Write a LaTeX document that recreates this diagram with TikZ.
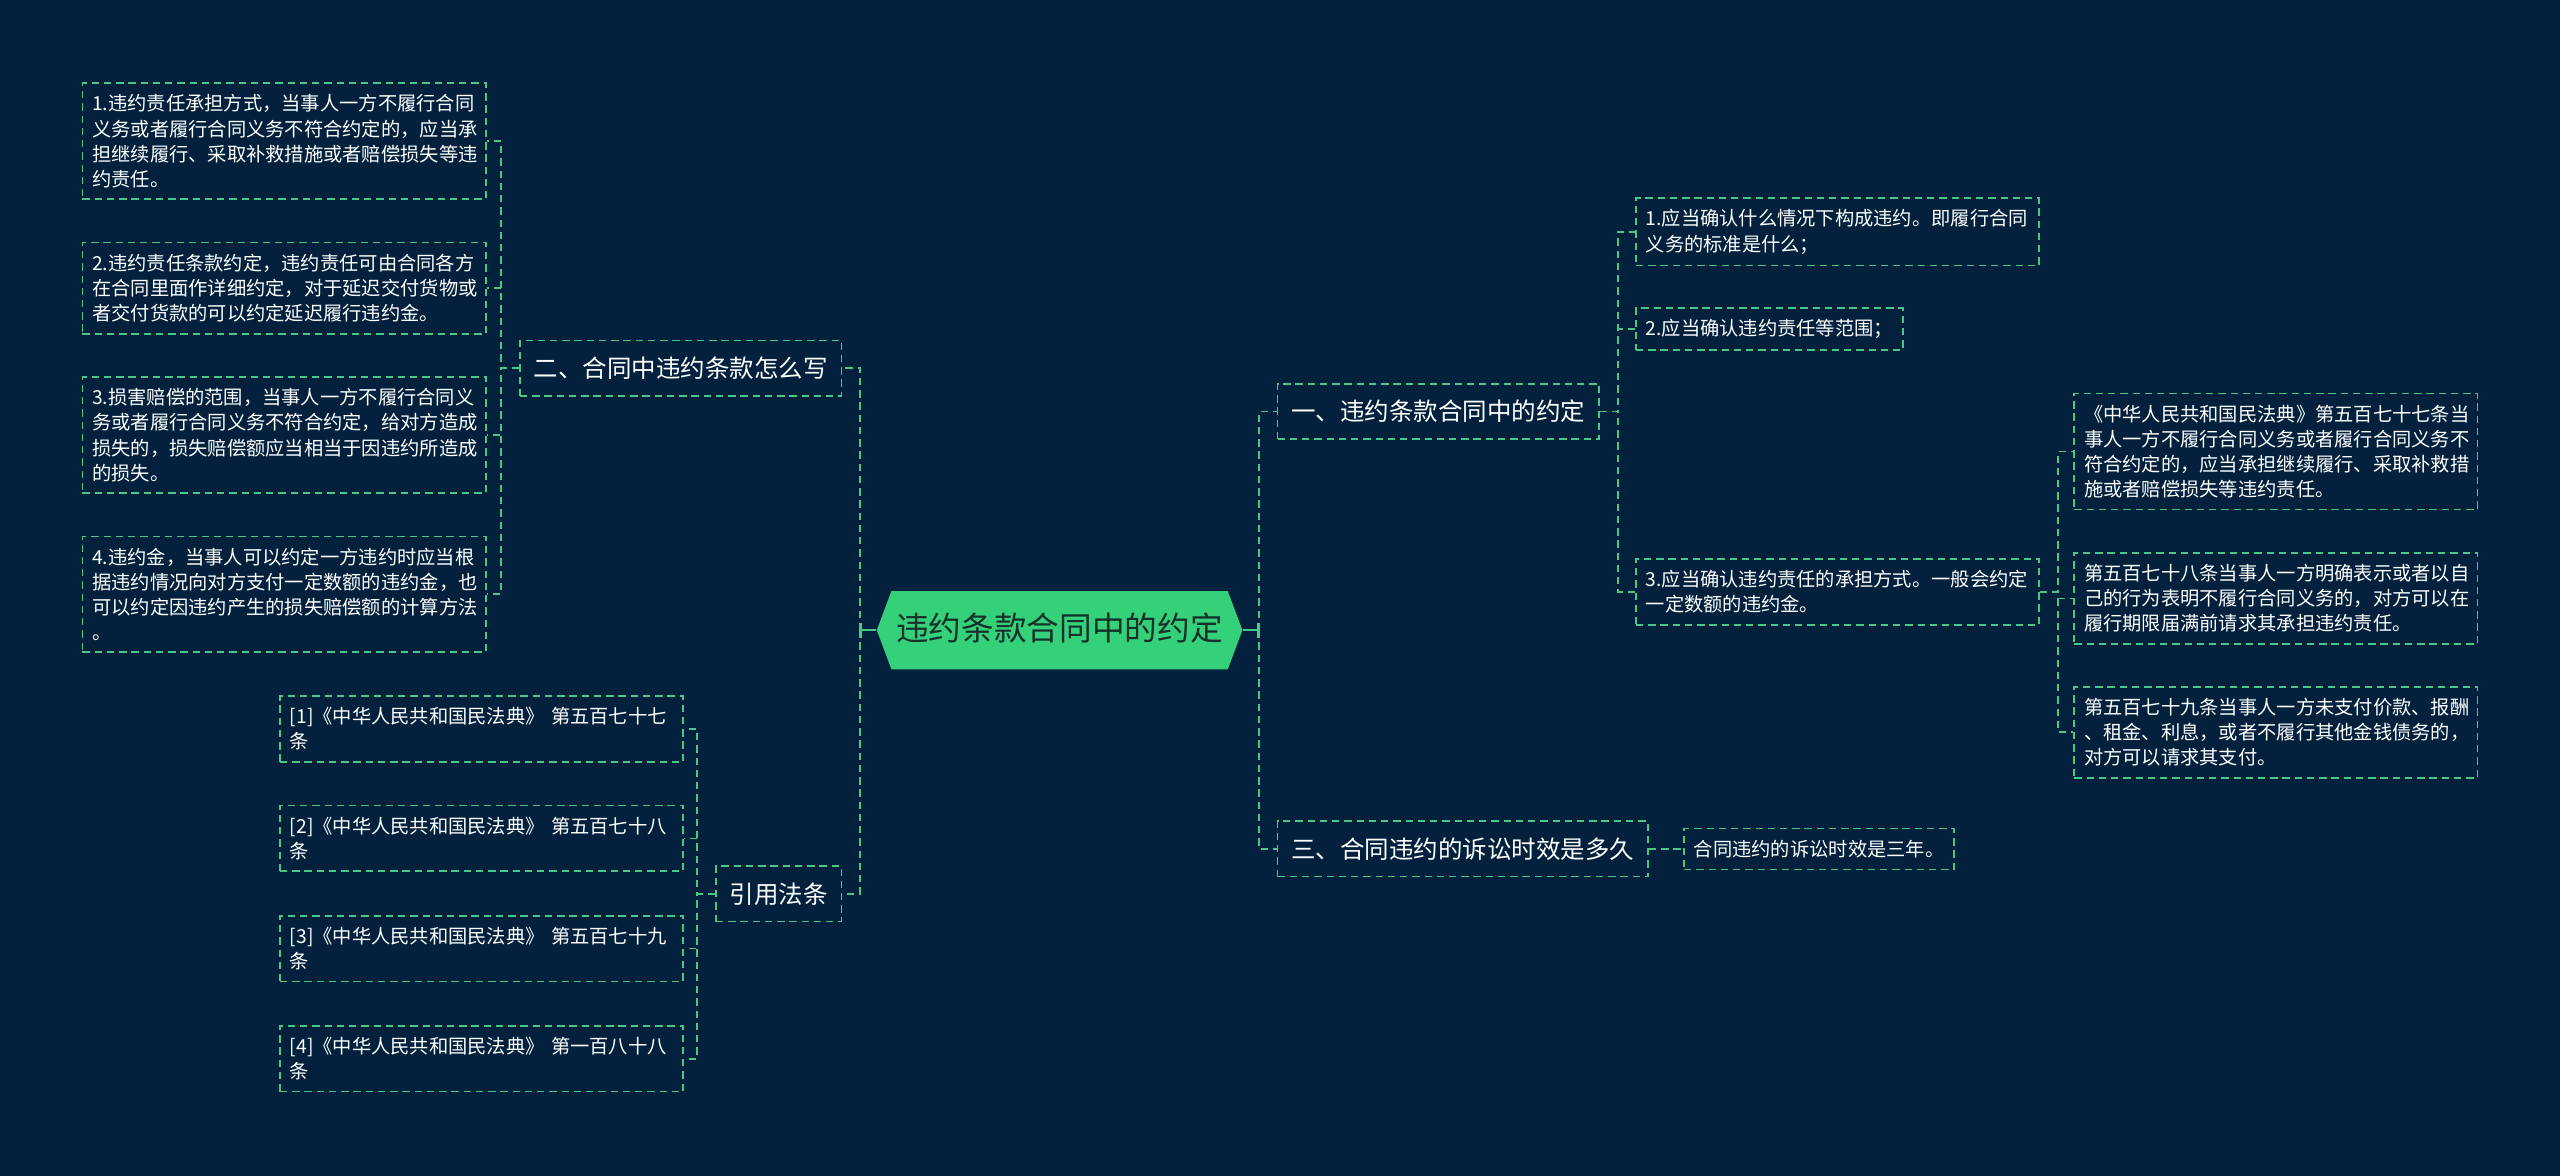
\documentclass[tikz,border=0pt]{standalone}
\usepackage{fontspec}
\setmainfont{Noto Sans CJK SC}
\usetikzlibrary{shapes.symbols,arrows.meta}
\definecolor{bgnavy}{HTML}{03213D}
\definecolor{linegreen}{HTML}{48C884}
\definecolor{rootgreen}{HTML}{34D07A}
\definecolor{roottext}{HTML}{16302A}

\begin{document}
\begin{tikzpicture}[x=1pt, y=-1pt,
    dashbox/.style={draw=linegreen, dash pattern=on 4.5pt off 3pt, line width=1pt, text=white},
    topic/.style={dashbox, font=\fontsize{15}{18}\selectfont, inner xsep=8.5pt, inner ysep=10pt},
    tag/.style={dashbox, font=\fontsize{11.8}{15.4}\selectfont, inner xsep=6pt, inner ysep=7pt},
    leaf/.style={tag, align=left, text width=235pt},
    hub/.style={signal, signal to=west and east, signal pointer angle=139, fill=rootgreen,
        text=roottext, font=\fontsize{20}{24}\selectfont, text height=15pt, text depth=3pt,
        inner xsep=3pt, inner ysep=15pt},
    link/.style={draw=linegreen, dash pattern=on 4.5pt off 3pt, line width=1pt},
    hublink/.style={draw=linegreen, line width=1.2pt, -{Bar[width=9pt]}}]
    \useasboundingbox[fill=bgnavy] (0,0) rectangle (1568,720);
    \node[hub] (root) at (649,386) {违约条款合同中的约定};
    \node[topic, anchor=west] (sec1) at (782,252) {一、违约条款合同中的约定};
    \node[topic, anchor=west] (sec3) at (782,520) {三、合同违约的诉讼时效是多久};
    \node[topic, anchor=east] (sec2) at (516,225.5) {二、合同中违约条款怎么写};
    \node[topic, anchor=east] (cite) at (516,547.5) {引用法条};
    \node[leaf, anchor=west] (sec1a) at (1001.5,142) {1.应当确认什么情况下构成违约。即履行合同\\义务的标准是什么；};
    \node[tag, anchor=west] (sec1b) at (1001.5,201.5) {2.应当确认违约责任等范围；};
    \node[leaf, anchor=west] (sec1c) at (1001.5,362.5) {3.应当确认违约责任的承担方式。一般会约定\\一定数额的违约金。};
    \node[leaf, anchor=west] (art577) at (1270,276.5) {《中华人民共和国民法典》第五百七十七条当\\事人一方不履行合同义务或者履行合同义务不\\符合约定的，应当承担继续履行、采取补救措\\施或者赔偿损失等违约责任。};
    \node[leaf, anchor=west] (art578) at (1270,366.5) {第五百七十八条当事人一方明确表示或者以自\\己的行为表明不履行合同义务的，对方可以在\\履行期限届满前请求其承担违约责任。};
    \node[leaf, anchor=west] (art579) at (1270,448.5) {第五百七十九条当事人一方未支付价款、报酬\\、租金、利息，或者不履行其他金钱债务的，\\对方可以请求其支付。};
    \node[tag, anchor=west] (sec3a) at (1031,520) {合同违约的诉讼时效是三年。};
    \node[leaf, anchor=east] (sec2a) at (298,86.5) {1.违约责任承担方式，当事人一方不履行合同\\义务或者履行合同义务不符合约定的，应当承\\担继续履行、采取补救措施或者赔偿损失等违\\约责任。};
    \node[leaf, anchor=east] (sec2b) at (298,176.5) {2.违约责任条款约定，违约责任可由合同各方\\在合同里面作详细约定，对于延迟交付货物或\\者交付货款的可以约定延迟履行违约金。};
    \node[leaf, anchor=east] (sec2c) at (298,266.5) {3.损害赔偿的范围，当事人一方不履行合同义\\务或者履行合同义务不符合约定，给对方造成\\损失的，损失赔偿额应当相当于因违约所造成\\的损失。};
    \node[leaf, anchor=east] (sec2d) at (298,364) {4.违约金，当事人可以约定一方违约时应当根\\据违约情况向对方支付一定数额的违约金，也\\可以约定因违约产生的损失赔偿额的计算方法\\。};
    \node[leaf, anchor=east] (cite1) at (419,446.5) {[1]《中华人民共和国民法典》 第五百七十七\\条};
    \node[leaf, anchor=east] (cite2) at (419,513.5) {[2]《中华人民共和国民法典》 第五百七十八\\条};
    \node[leaf, anchor=east] (cite3) at (419,581) {[3]《中华人民共和国民法典》 第五百七十九\\条};
    \node[leaf, anchor=east] (cite4) at (419,648.5) {[4]《中华人民共和国民法典》 第一百八十八\\条};
    \draw[hublink] (root.east) -- ++(10,0);
    \draw[hublink] (root.west) -- ++(-10,0);
    \foreach \t in {sec1,sec3}
        \draw[link] ([xshift=10pt]root.east) |- (\t.west);
    \foreach \t in {sec2,cite}
        \draw[link] ([xshift=-10pt]root.west) |- (\t.east);
    \foreach \t in {sec1a,sec1b,sec1c}
        \draw[link] (sec1.east) -- ++(11,0) |- (\t.west);
    \foreach \t in {art577,art578,art579}
        \draw[link] (sec1c.east) -- ++(11,0) |- (\t.west);
    \draw[link] (sec3.east) -- (sec3a.west);
    \foreach \t in {sec2a,sec2b,sec2c,sec2d}
        \draw[link] (sec2.west) -- ++(-11,0) |- (\t.east);
    \foreach \t in {cite1,cite2,cite3,cite4}
        \draw[link] (cite.west) -- ++(-11,0) |- (\t.east);
\end{tikzpicture}
\end{document}
